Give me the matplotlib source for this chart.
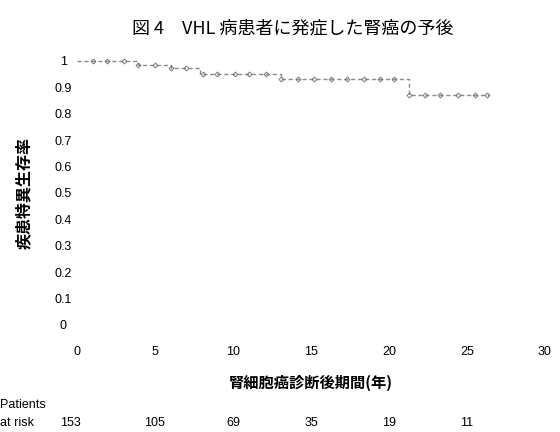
import numpy as np
import matplotlib.pyplot as plt

plt.rcParams['font.family'] = ['Noto Sans CJK JP', 'DejaVu Sans']

# Kaplan-Meier steps (years after diagnosis, disease-specific survival)
event_t = [0, 3.9, 6.0, 7.9, 13.1, 21.3, 26.4]
event_s = [1.0, 0.985, 0.973, 0.952, 0.932, 0.870, 0.870]
# censored observations
censor_t = [1.0, 1.9, 3.0, 3.9, 5.0, 6.0, 7.0, 8.1, 9.0, 10.1, 11.0, 12.1, 13.1,
            14.2, 15.2, 16.3, 17.3, 18.4, 19.4, 20.3, 21.3, 22.3, 23.3, 24.4,
            25.5, 26.3]

risk_t = [0, 5, 10, 15, 20, 25]
risk_n = [153, 105, 69, 35, 19, 11]

xticks = [0, 5, 10, 15, 20, 25, 30]
yticks = [0, 0.1, 0.2, 0.3, 0.4, 0.5, 0.6, 0.7, 0.8, 0.9, 1]
ylabels = ['0', '0.1', '0.2', '0.3', '0.4', '0.5', '0.6', '0.7', '0.8', '0.9', '1']

num_font = ['Liberation Sans Narrow', 'Liberation Sans', 'DejaVu Sans']

fig = plt.figure(figsize=(5.6, 4.32), dpi=100)
ax = fig.add_axes([0.1375, 0.2477, 0.8355, 0.6111])

ax.step(event_t, event_s, where='post', color='#8a8a8a', lw=1.0,
        ls=(0, (3, 2)), clip_on=False)
idx = np.searchsorted(event_t, censor_t, side='right') - 1
censor_s = np.array(event_s)[idx]
ax.plot(censor_t, censor_s, ls='none', marker='D', ms=2.5, mfc='none',
        mec='#7a7a7a', mew=0.7, clip_on=False)

ax.set_xlim(0, 30)
ax.set_ylim(0, 1)
for s in ax.spines.values():
    s.set_visible(False)
ax.tick_params(length=0)
ax.set_xticks(xticks)
ax.set_xticklabels([str(v) for v in xticks], family=num_font, fontsize=9)
ax.tick_params(axis='x', pad=15)
ax.set_yticks(yticks)
ax.set_yticklabels(ylabels, family=num_font, fontsize=9, ha='center')
ax.tick_params(axis='y', pad=10)

ax.set_ylabel('疾患特異生存率', fontsize=11.5, fontweight='bold', labelpad=16)
ax.set_xlabel('腎細胞癌診断後期間(年)', fontsize=11, fontweight='bold', labelpad=12)

fig.text(0.523, 0.935, '図 4\u3000VHL 病患者に発症した腎癌の予後', ha='center',
         va='center', fontsize=13)

# number at risk table
fig.text(0.0, 0.062, 'Patients', family=num_font, fontsize=9, va='center')
fig.text(0.0, 0.021, 'at risk', family=num_font, fontsize=9, va='center')
for t, n in zip(risk_t, risk_n):
    x_fig = fig.transFigure.inverted().transform(ax.transData.transform((t, 0)))[0]
    fig.text(x_fig - (0.012 if t == 0 else 0), 0.021, str(n), family=num_font,
             fontsize=9, ha='center', va='center')

fig.savefig('out.png', dpi=100)
